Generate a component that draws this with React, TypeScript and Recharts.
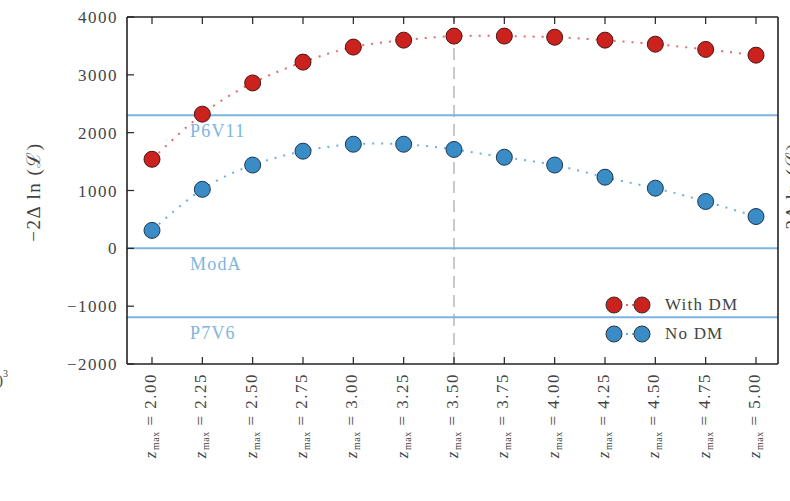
import * as React from 'react';
import { ComposedChart, Line, XAxis, YAxis, ReferenceLine } from 'recharts';

// z_max grid and the two likelihood scans
const zMax = ['2.00', '2.25', '2.50', '2.75', '3.00', '3.25', '3.50', '3.75', '4.00', '4.25', '4.50', '4.75', '5.00'];
const withDM = [1540, 2320, 2860, 3220, 3480, 3600, 3670, 3670, 3650, 3600, 3530, 3440, 3340];
const noDM = [310, 1020, 1440, 1680, 1800, 1800, 1710, 1575, 1440, 1230, 1040, 810, 550];

// reference models
const refNames = ['P6V11', 'ModA', 'P7V6'];
const refValues = [2300, 0, -1190];

const yTicks = [-2000, -1000, 0, 1000, 2000, 3000, 4000];
const bestZ = '3.50';

const data = zMax.map((z, i) => ({ z, withDM: withDM[i], noDM: noDM[i] }));

const FONT = '"Liberation Serif", "DejaVu Serif", serif';
const AXIS = '#222';
const TXT = '#444';
const RED = '#cc221e';
const BLUE = '#3a8cc6';
const REF = '#7db5e0';

const fmt = (v: number) => (v < 0 ? '\u2212' + Math.abs(v) : String(v));

const LeftTick = (p: any) => (
  <g>
    <line x1={p.x} x2={p.x + 7} y1={p.y} y2={p.y} stroke={AXIS} strokeWidth={1.2} />
    <text x={p.x - 9} y={p.y} dy={6} textAnchor="end" fontFamily={FONT} fontSize={17} letterSpacing={1.5} fill={TXT}>
      {fmt(p.payload.value)}
    </text>
  </g>
);

const RightTick = (p: any) => (
  <line x1={p.x - 7} x2={p.x} y1={p.y} y2={p.y} stroke={AXIS} strokeWidth={1.2} />
);

const TopTick = (p: any) => (
  <line x1={p.x} x2={p.x} y1={p.y} y2={p.y + 7} stroke={AXIS} strokeWidth={1.2} />
);

const BottomTick = (p: any) => (
  <g>
    <line x1={p.x} x2={p.x} y1={p.y - 7} y2={p.y} stroke={AXIS} strokeWidth={1.2} />
    <text
      transform={`translate(${p.x + 4}, ${p.y + 9}) rotate(-90)`}
      textAnchor="end"
      fontFamily={FONT}
      fontSize={17}
      letterSpacing={1.5}
      fill={TXT}
    >
      <tspan fontStyle="italic">z</tspan>
      <tspan fontSize={10} dy={3} letterSpacing={0.5}>max</tspan>
      <tspan dy={-3}>{' = ' + p.payload.value}</tspan>
    </text>
  </g>
);

const refLabel = (name: string) => (props: any) => {
  const vb = props.viewBox || {};
  return (
    <text x={(vb.x ?? 127) + 63} y={(vb.y ?? 0) + 22} fontFamily={FONT} fontSize={18} letterSpacing={1.2} fill={REF}>
      {name}
    </text>
  );
};

const Dot = (color: string, edge: string) => ({
  r: 8,
  fill: color,
  stroke: edge,
  strokeWidth: 1,
  strokeDasharray: 'none',
});

const LegendRow = ({ color, line, label, top }: { color: string; line: string; label: string; top: number }) => (
  <div style={{ position: 'absolute', left: 604, top, display: 'flex', alignItems: 'center' }}>
    <svg width={50} height={20}>
      <line x1={10} x2={38} y1={10} y2={10} stroke={line} strokeWidth={2} strokeDasharray="2 4" />
      <circle cx={10} cy={10} r={8} fill={color} stroke="#333" strokeWidth={1} />
      <circle cx={38} cy={10} r={8} fill={color} stroke="#333" strokeWidth={1} />
    </svg>
    <span style={{ fontFamily: FONT, fontSize: 17, letterSpacing: 1.2, color: TXT, marginLeft: 11 }}>{label}</span>
  </div>
);

export default function App() {
  return (
    <div style={{ position: 'absolute', left: 0, top: 0, width: 790, height: 501, background: '#fff' }}>
      <ComposedChart width={790} height={501} data={data} margin={{ top: 16, right: 0, bottom: 0, left: 0 }}>
        <XAxis
          dataKey="z"
          height={137}
          padding={{ left: 25, right: 22 }}
          tickSize={0}
          tickMargin={0}
          tickLine={false}
          interval={0}
          axisLine={{ stroke: AXIS, strokeWidth: 1.6 }}
          tick={BottomTick}
        />
        <XAxis
          xAxisId="t"
          dataKey="z"
          orientation="top"
          height={1}
          padding={{ left: 25, right: 22 }}
          tickSize={0}
          tickMargin={0}
          tickLine={false}
          interval={0}
          axisLine={{ stroke: AXIS, strokeWidth: 1.6 }}
          tick={TopTick}
        />
        <YAxis
          width={127}
          domain={[-2000, 4000]}
          ticks={yTicks}
          interval={0}
          tickSize={0}
          tickMargin={0}
          tickLine={false}
          axisLine={{ stroke: AXIS, strokeWidth: 1.6 }}
          tick={LeftTick}
        />
        <YAxis
          yAxisId="r"
          orientation="right"
          width={12}
          domain={[-2000, 4000]}
          ticks={yTicks}
          interval={0}
          tickSize={0}
          tickMargin={0}
          tickLine={false}
          axisLine={{ stroke: AXIS, strokeWidth: 1.6 }}
          tick={RightTick}
        />
        <ReferenceLine x={bestZ} stroke="#b8b8b8" strokeWidth={1.5} strokeDasharray="12 7" />
        {refValues.map((v, i) => (
          <ReferenceLine key={refNames[i]} y={v} stroke={REF} strokeWidth={2} label={refLabel(refNames[i])} />
        ))}
        <Line
          dataKey="withDM"
          type="natural"
          stroke="#e66a66"
          strokeWidth={2}
          strokeDasharray="2 7"
          dot={Dot(RED, '#4a1515')}
          isAnimationActive={false}
        />
        <Line
          dataKey="noDM"
          type="natural"
          stroke="#6cb0e2"
          strokeWidth={2}
          strokeDasharray="2 7"
          dot={Dot(BLUE, '#1c3650')}
          isAnimationActive={false}
        />
      </ComposedChart>

      <svg width={790} height={501} style={{ position: 'absolute', left: 0, top: 0, pointerEvents: 'none' }}>
        <text transform="translate(40, 192) rotate(-90)" textAnchor="middle" fontFamily={FONT} fontSize={19} letterSpacing={1.5} fill={TXT}>
          {'\u22122\u0394 ln (\u2112)'}
        </text>
        <text transform="translate(799, 192) rotate(-90)" textAnchor="middle" fontFamily={FONT} fontSize={19} letterSpacing={1.5} fill={TXT}>
          {'\u22122\u0394 ln (\u2112)'}
        </text>
        {/* edge of the neighbouring panel's label */}
        <text x={-2} y={385} fontFamily={FONT} fontSize={15} fill={TXT}>
          )<tspan fontSize={10} dy={-8}>3</tspan>
        </text>
      </svg>

      <LegendRow color={RED} line="#e66a66" label="With DM" top={295} />
      <LegendRow color={BLUE} line="#6cb0e2" label="No DM" top={324} />
    </div>
  );
}
